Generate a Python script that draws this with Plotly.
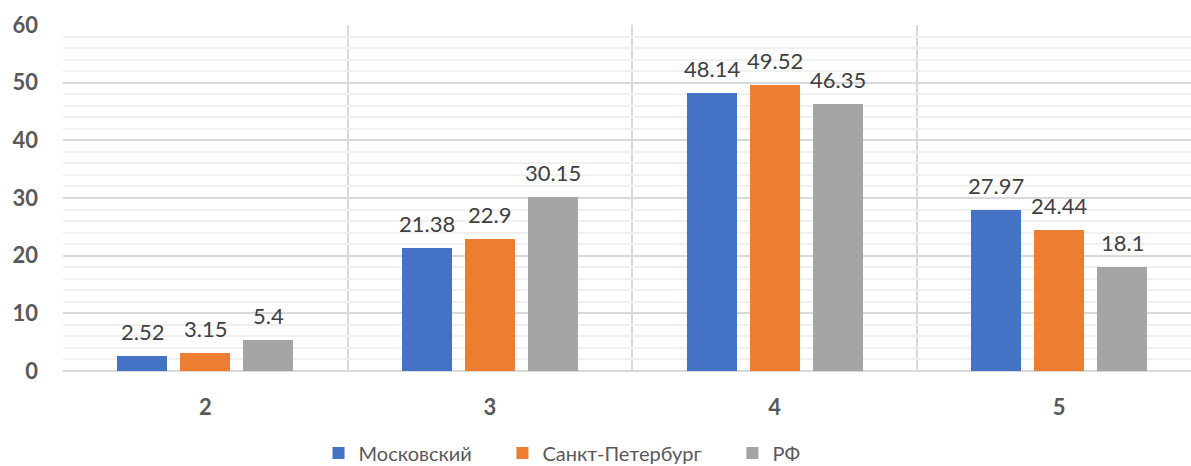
import plotly.graph_objects as go

categories = ["2", "3", "4", "5"]
series_names = ["Московский", "Санкт-Петербург", "РФ"]
moscow = [2.52, 21.38, 48.14, 27.97]
spb = [3.15, 22.9, 49.52, 24.44]
rf = [5.4, 30.15, 46.35, 18.1]
colors = ["#4472C4", "#ED7D31", "#A5A5A5"]

series = [moscow, spb, rf]
FONT = "Lato"
TXT = "#404040"
AX = "#595959"
NB = "\u00a0"
pads = [NB * 5, NB * 5, ""]

slot = 0.2214
bw = 0.1757
xs = list(range(len(categories)))

fig = go.Figure()
annotations = []
for j, (name, vals, col) in enumerate(zip(series_names, series, colors)):
    off = (j - 1) * slot
    xpos = [i + off for i in xs]
    fig.add_trace(go.Bar(x=xpos, y=vals, width=bw, name=name + pads[j],
                         marker=dict(color=col, line=dict(width=0))))
    for x, v in zip(xpos, vals):
        annotations.append(dict(x=x, y=v, xref="x", yref="y", text=f"{v:g}",
                                showarrow=False, yanchor="bottom", yshift=9,
                                font=dict(family=FONT, size=22, color=TXT)))

fig.update_layout(
    width=1191, height=480,
    margin=dict(l=63, r=0, t=25, b=109),
    plot_bgcolor="white", paper_bgcolor="white",
    bargap=0, barmode="overlay",
    annotations=annotations,
    font=dict(family=FONT, color=AX),
    legend=dict(orientation="h", x=0.4424, xanchor="center", y=-0.237, yanchor="middle",
                font=dict(family=FONT, size=20, color=AX), itemwidth=30,
                traceorder="normal"),
    showlegend=True,
)
fig.update_xaxes(
    range=[-0.5, 3.463], tickvals=xs, ticktext=categories,
    showgrid=False, zeroline=False, showline=False, automargin=False,
    tickfont=dict(family=FONT, size=22, color=AX, weight="bold"),
    ticks="", ticklabelstandoff=21,
    minor=dict(tickvals=[-0.5, 0.5, 1.5, 2.5, 3.5], showgrid=True,
               gridcolor="#D9D9D9", gridwidth=1.5),
)
fig.update_yaxes(
    range=[0, 60], tickvals=[0, 10, 20, 30, 40, 50, 60],
    showgrid=True, gridcolor="#D9D9D9", gridwidth=1.5, automargin=False,
    zeroline=True, zerolinecolor="#D9D9D9", zerolinewidth=1.5,
    tickfont=dict(family=FONT, size=22, color=AX, weight="bold"),
    ticks="", ticklabelstandoff=24,
    minor=dict(dtick=2, showgrid=True, gridcolor="#F0F0F0", gridwidth=1.5),
)

fig.write_html("out.html", config={"displayModeBar": False},
               post_script="document.body.style.margin='0';document.body.style.overflow='hidden';")
